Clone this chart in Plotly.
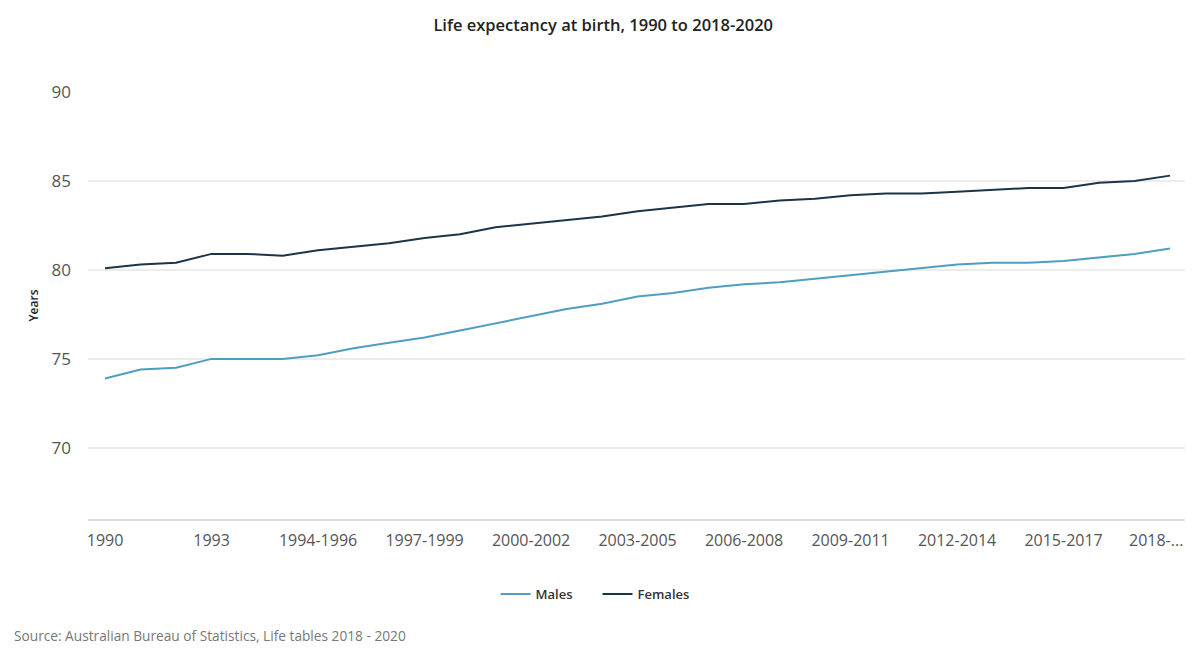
import plotly.graph_objects as go

# reporting periods (single years first, then three-year periods)
periods = ["1990", "1991", "1992", "1993", "1994", "1995"] + [
    f"{y}-{y + 2}" for y in range(1994, 2019)
]

males = [73.9, 74.4, 74.5, 75.0, 75.0, 75.0,
         75.2, 75.6, 75.9, 76.2, 76.6, 77.0, 77.4, 77.8, 78.1, 78.5,
         78.7, 79.0, 79.2, 79.3, 79.5, 79.7, 79.9, 80.1, 80.3, 80.4,
         80.4, 80.5, 80.7, 80.9, 81.2]

females = [80.1, 80.3, 80.4, 80.9, 80.9, 80.8,
           81.1, 81.3, 81.5, 81.8, 82.0, 82.4, 82.6, 82.8, 83.0, 83.3,
           83.5, 83.7, 83.7, 83.9, 84.0, 84.2, 84.3, 84.3, 84.4, 84.5,
           84.6, 84.6, 84.9, 85.0, 85.3]

tick_idx = list(range(0, 30, 3))  # every third period, last one added as a note
y_ticks = [70, 75, 80, 85, 90]

FONT = "Open Sans"
MALE_COL = "#4f9ec1"
FEMALE_COL = "#1b3448"

fig = go.Figure()
fig.add_trace(go.Scatter(x=periods, y=males, name="Males", mode="lines",
                         line=dict(color=MALE_COL, width=2)))
fig.add_trace(go.Scatter(x=periods, y=females, name="Females", mode="lines",
                         line=dict(color=FEMALE_COL, width=2)))

fig.update_layout(
    width=1200, height=666,
    margin=dict(l=80, r=23, t=84, b=155),
    plot_bgcolor="white", paper_bgcolor="white",
    font=dict(family=FONT, color="#555"),
    title=dict(text="Life expectancy at birth, 1990 to 2018-2020",
               x=0.496, xanchor="center", y=0.974, yanchor="middle",
               font=dict(family=FONT, size=16.5, color="#222", weight=600)),
    xaxis=dict(type="category", range=[-0.48, 30.42],
               tickvals=[periods[i] for i in tick_idx],
               ticktext=[periods[i] for i in tick_idx],
               showgrid=False, showline=True, linecolor="#dcdcdc", linewidth=2,
               ticks="", ticklabelstandoff=6,
               tickfont=dict(size=16, color="#555")),
    yaxis=dict(range=[66, 90], tickvals=y_ticks, showgrid=True,
               gridcolor="#ececec", gridwidth=1.5, zeroline=False,
               ticks="", ticklabelstandoff=16,
               tickfont=dict(size=17, color="#555"),
               title=dict(text="Years", standoff=10,
                          font=dict(size=12, color="#222", weight=600))),
    legend=dict(orientation="h", x=0.3715, xanchor="left",
                y=-0.176, yanchor="middle",
                font=dict(size=13, color="#333", weight=600),
                entrywidth=57, entrywidthmode="pixels",
                itemwidth=30, tracegroupgap=0),
    showlegend=True,
)

# truncated label for the final period
fig.add_annotation(x=periods[30], y=0, yref="paper", xshift=-14, yshift=-21,
                   text="2018-...", showarrow=False, yanchor="middle",
                   font=dict(family=FONT, size=16, color="#555"))

fig.add_annotation(x=0, xref="paper", xshift=-76, y=-0.274, yref="paper",
                   text="Source: Australian Bureau of Statistics, Life tables 2018 - 2020",
                   showarrow=False, xanchor="left", yanchor="middle",
                   font=dict(family=FONT, size=13.7, color="#777"))

fig.write_html("out.html")
